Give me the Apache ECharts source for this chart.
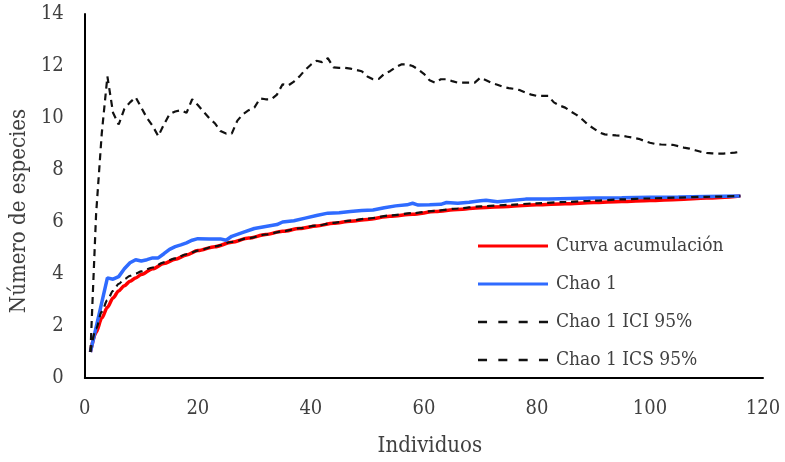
<!DOCTYPE html>
<html>
<head>
<meta charset="utf-8">
<script src="https://cdn.jsdelivr.net/npm/echarts@6/dist/echarts.min.js"></script>
<style>html,body{margin:0;padding:0;background:#fff}#c{width:785px;height:462px}</style>
</head>
<body>
<div id="c"></div>
<script>
// ---- data ----
const xTicks = [0, 20, 40, 60, 80, 100, 120];
const yTicks = [0, 2, 4, 6, 8, 10, 12, 14];
const seriesNames = ['Curva acumulación', 'Chao 1', 'Chao 1 ICI 95%', 'Chao 1 ICS 95%'];

const accX = [1,2,3,4,5,6,7,8,9,10,12,14,16,18,20,23,26,29,32,35,38,41,44,47,50,54,58,62,66,70,75,80,85,90,95,100,105,110,116];
const accY = [1.0,1.75,2.3,2.72,3.08,3.35,3.55,3.72,3.85,3.98,4.2,4.4,4.57,4.73,4.9,5.05,5.22,5.38,5.52,5.64,5.75,5.85,5.95,6.03,6.1,6.22,6.3,6.4,6.48,6.55,6.6,6.66,6.7,6.75,6.79,6.83,6.87,6.92,7.0];

const chaoX = [1,2,3,4,5,6,7,8,9,10,11,12,13,14,15,16,17,18,19,20,22,24,25,26,28,30,32,34,35,37,39,41,43,45,47,49,51,53,55,57,58,59,61,63,64,66,68,70,71,73,75,78,82,86,90,95,100,105,110,116];
const chaoY = [1.0,1.95,2.9,3.85,3.8,3.9,4.2,4.43,4.55,4.5,4.55,4.62,4.62,4.78,4.95,5.05,5.12,5.2,5.3,5.36,5.35,5.35,5.3,5.45,5.6,5.75,5.83,5.9,6.0,6.05,6.15,6.25,6.34,6.36,6.4,6.44,6.46,6.55,6.62,6.66,6.72,6.65,6.66,6.68,6.75,6.72,6.76,6.82,6.84,6.78,6.82,6.88,6.88,6.9,6.92,6.93,6.95,6.96,6.98,7.0];

const iciX = [1,2,3,4,5,6,7,8,9,10,12,14,16,18,20,23,26,29,32,35,38,41,44,47,50,54,58,62,66,70,75,80,85,90,95,100,105,110,116];
const iciY = [1.0,1.9,2.55,3.0,3.35,3.62,3.8,3.93,4.02,4.1,4.25,4.45,4.6,4.76,4.9,5.06,5.23,5.38,5.52,5.64,5.76,5.86,5.97,6.05,6.13,6.25,6.34,6.43,6.52,6.6,6.66,6.72,6.77,6.82,6.87,6.91,6.94,6.97,7.0];

const icsX = [];
for (let i = 1; i <= 116; i++) icsX.push(i);
const icsY = [1.0,6.3,9.4,11.6,10.2,9.75,10.35,10.6,10.8,10.4,
  10.0,9.7,9.3,9.75,10.15,10.25,10.3,10.2,10.72,10.5,
  10.25,10.0,9.8,9.5,9.4,9.4,9.9,10.15,10.3,10.4,
  10.75,10.72,10.72,10.9,11.3,11.25,11.4,11.6,11.85,12.05,
  12.2,12.15,12.3,11.95,11.93,11.93,11.9,11.85,11.8,11.6,
  11.49,11.5,11.7,11.8,11.95,12.06,12.06,12.0,11.87,11.7,
  11.45,11.36,11.49,11.49,11.42,11.36,11.36,11.36,11.36,11.55,
  11.45,11.35,11.28,11.2,11.15,11.12,11.07,10.98,10.9,10.85,
  10.85,10.85,10.6,10.48,10.4,10.25,10.12,9.95,9.75,9.6,
  9.45,9.37,9.35,9.33,9.32,9.28,9.24,9.2,9.12,9.05,
  9.0,8.98,8.97,8.97,8.92,8.86,8.82,8.76,8.7,8.66,
  8.64,8.63,8.63,8.65,8.67,8.7];

const zip = (xs, ys) => xs.map((x, i) => [x, ys[i]]);

// ---- chart ----
const FONT = '"DejaVu Serif Condensed", "DejaVu Serif", serif';
const SOLID_ICON = 'path://M0,0H70V3H0Z';
const DASH_ICON = 'path://M0,0H8V2.4H0Z M18,0H26V2.4H18Z M36,0H44V2.4H36Z M54,0H62V2.4H54Z';
const chart = echarts.init(document.getElementById('c'), null, {renderer: 'canvas'});
chart.setOption({
  animation: false,
  backgroundColor: '#fff',
  textStyle: {fontFamily: FONT},
  grid: {left: 84, right: 22, top: 14, bottom: 81, containLabel: false},
  xAxis: {
    type: 'value', min: xTicks[0], max: xTicks[xTicks.length - 1], interval: 20,
    name: 'Individuos', nameLocation: 'middle', nameGap: 57,
    nameTextStyle: {fontFamily: FONT, fontSize: 22, color: '#404040', padding: [0, 0, 0, 12]},
    axisLine: {lineStyle: {color: '#000', width: 2}},
    axisTick: {show: false},
    splitLine: {show: false},
    axisLabel: {fontFamily: FONT, fontSize: 20, color: '#404040', margin: 21}
  },
  yAxis: {
    type: 'value', min: yTicks[0], max: yTicks[yTicks.length - 1], interval: 2,
    name: 'Número de especies', nameLocation: 'middle', nameGap: 50,
    nameTextStyle: {fontFamily: FONT, fontSize: 22, color: '#404040', padding: [0, 30, 0, 0]},
    axisLine: {show: true, lineStyle: {color: '#000', width: 2}},
    axisTick: {show: false},
    splitLine: {show: false},
    axisLabel: {fontFamily: FONT, fontSize: 20, color: '#404040', margin: 21}
  },
  legend: {
    orient: 'vertical', left: 478, top: 235,
    itemWidth: 70, itemHeight: 3, itemGap: 16, padding: 0,
    textStyle: {fontFamily: FONT, fontSize: 19, color: '#404040', padding: [0, 0, 0, 3], lineHeight: 22},
    data: [
      {name: seriesNames[0], icon: SOLID_ICON},
      {name: seriesNames[1], icon: SOLID_ICON},
      {name: seriesNames[2], icon: DASH_ICON},
      {name: seriesNames[3], icon: DASH_ICON}
    ]
  },
  series: [
    {name: seriesNames[0], type: 'line', data: zip(accX, accY), showSymbol: false, smooth: 0.3, smoothMonotone: 'x',
     lineStyle: {color: '#ff0000', width: 3.5}, itemStyle: {color: '#ff0000'}, z: 2},
    {name: seriesNames[1], type: 'line', data: zip(chaoX, chaoY), showSymbol: false,
     lineStyle: {color: '#2f6bff', width: 3.5}, itemStyle: {color: '#2f6bff'}, z: 3},
    {name: seriesNames[2], type: 'line', data: zip(iciX, iciY), showSymbol: false, smooth: 0.3, smoothMonotone: 'x',
     lineStyle: {color: '#111', width: 2.2, type: [7, 5]}, itemStyle: {color: '#111'}, z: 4},
    {name: seriesNames[3], type: 'line', data: zip(icsX, icsY), showSymbol: false,
     lineStyle: {color: '#111', width: 2.2, type: [7, 5]}, itemStyle: {color: '#111'}, z: 4}
  ]
});
</script>
</body>
</html>
